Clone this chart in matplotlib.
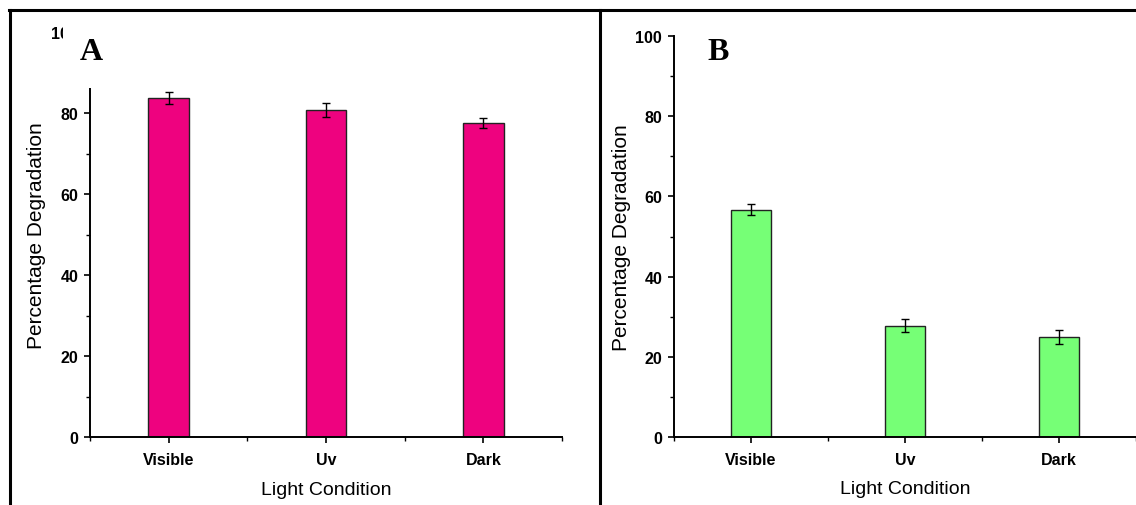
import matplotlib
matplotlib.use("Agg")
import matplotlib.pyplot as plt
from matplotlib.lines import Line2D
from matplotlib.patches import Rectangle
import numpy as np

conditions = ["Visible", "Uv", "Dark"]
deg_a = [83.6, 80.7, 77.6]
err_a = [1.5, 1.7, 1.2]
deg_b = [56.7, 27.8, 24.9]
err_b = [1.4, 1.7, 1.8]

plt.rcParams['font.family'] = ['Liberation Sans', 'DejaVu Sans']

W, H = 1136, 506
fig = plt.figure(figsize=(W / 100, H / 100), dpi=100)


def px_axes(left, top, right, bottom):
    # pixel box -> figure fraction
    return fig.add_axes([left / W, 1 - bottom / H, (right - left) / W, (bottom - top) / H])


def style_panel(ax, values, errors, color):
    x = np.arange(1, len(conditions) + 1)
    ax.bar(x, values, width=0.26, color=color, edgecolor='#222222', linewidth=1.0, zorder=2)
    ax.errorbar(x, values, yerr=errors, fmt='none', ecolor='black',
                elinewidth=1.0, capsize=3, capthick=1.0, zorder=3)
    ax.set_xlim(0.5, 3.5)
    ax.set_ylim(0, 100)
    ax.set_xticks(x)
    ax.set_xticklabels(conditions, fontweight='bold', fontsize=11.5)
    ax.set_xticks([0.5, 1.5, 2.5, 3.5], minor=True)
    ax.set_yticks([0, 20, 40, 60, 80, 100])
    ax.set_yticks([10, 30, 50, 70, 90], minor=True)
    for lab in ax.get_yticklabels():
        lab.set_fontweight('bold')
        lab.set_fontsize(11.5)
    for s in ['top', 'right']:
        ax.spines[s].set_visible(False)
    for s in ['left', 'bottom']:
        ax.spines[s].set_linewidth(1.4)
    ax.tick_params(which='major', direction='out', length=4.5, width=1.2, pad=4)
    ax.tick_params(axis='x', which='major', pad=6)
    ax.tick_params(which='minor', direction='out', length=3, width=1.0)
    ax.set_xlabel('Light Condition', fontsize=14)
    ax.set_ylabel('Percentage Degradation', fontsize=15)
    ax.xaxis.set_label_coords(0.5, -0.108)
    ax.yaxis.set_label_coords(-0.093, 0.5)


ax_a = px_axes(90, 33, 562, 438)
style_panel(ax_a, deg_a, err_a, '#EE027F')

ax_b = px_axes(674, 37, 1136, 438)
style_panel(ax_b, deg_b, err_b, '#76FF76')

# white box hiding the top of panel A's axis, as in the source figure
fig.patches.append(Rectangle((63 / W, 1 - 89 / H), 497 / W, 70 / H,
                             transform=fig.transFigure, facecolor='white',
                             edgecolor='none', zorder=10))

fig.text(91 / W, 1 - 53 / H, 'A', family='Liberation Serif', fontweight='bold',
         fontsize=23, ha='center', va='center', zorder=11)
fig.text(718 / W, 1 - 53 / H, 'B', family='Liberation Serif', fontweight='bold',
         fontsize=23, ha='center', va='center', zorder=11)

# panel frames
lw = 2.2
fig.add_artist(Line2D([9 / W, 1], [1 - 11 / H, 1 - 11 / H], transform=fig.transFigure, color='black', lw=lw))
fig.add_artist(Line2D([10 / W, 10 / W], [0, 1 - 11 / H], transform=fig.transFigure, color='black', lw=lw))
fig.add_artist(Line2D([600 / W, 600 / W], [0, 1 - 11 / H], transform=fig.transFigure, color='black', lw=lw))

fig.savefig('out.png', dpi=100, facecolor='white')
